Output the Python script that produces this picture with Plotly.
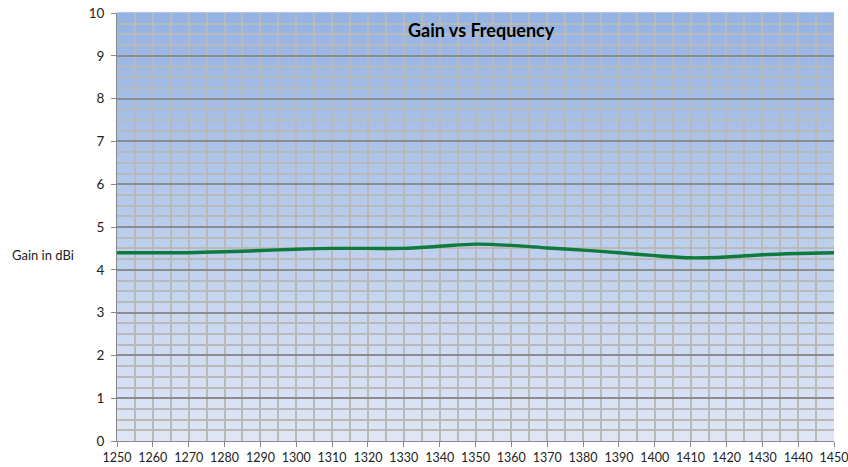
import plotly.graph_objects as go

freq = [1250, 1260, 1270, 1280, 1290, 1300, 1310, 1320, 1330, 1340, 1350,
        1360, 1370, 1380, 1390, 1400, 1410, 1420, 1430, 1440, 1450]
gain = [4.40, 4.40, 4.40, 4.42, 4.45, 4.48, 4.50, 4.50, 4.50, 4.55, 4.60,
        4.57, 4.51, 4.46, 4.40, 4.33, 4.28, 4.30, 4.35, 4.38, 4.40]

fig = go.Figure()
fig.add_trace(go.Scatter(x=freq, y=gain, mode="lines",
                         line=dict(color="#0e7a3b", width=3.4, shape="spline", smoothing=0.8),
                         showlegend=False, hoverinfo="x+y"))

# gradient background strips
top = (149, 179, 227)
bot = (222, 230, 245)
n = 60
shapes = []
for i in range(n):
    t = i / (n - 1)
    c = tuple(round(bot[k] + (top[k] - bot[k]) * t) for k in range(3))
    shapes.append(dict(type="rect", xref="x domain", yref="y domain",
                       x0=0, x1=1, y0=i / n, y1=(i + 1) / n + 0.002,
                       fillcolor="rgb(%d,%d,%d)" % c, line=dict(width=0), layer="below"))

fig.update_layout(
    width=848, height=467,
    margin=dict(l=117, r=14, t=13, b=26),
    paper_bgcolor="white", plot_bgcolor="white",
    font=dict(family="Lato, Open Sans, sans-serif", size=13, color="#222"),
    shapes=shapes,
    annotations=[
        dict(text="<b>Gain vs Frequency</b>", xref="x domain", yref="y domain",
             x=0.509, y=0.96, yanchor="middle", showarrow=False,
             font=dict(size=18, color="black")),
        dict(text="Gain in dBi", xref="paper", yref="y domain", x=-0.103, y=0.435,
             xanchor="center", yanchor="middle", showarrow=False,
             font=dict(size=13, color="#222")),
    ],
    xaxis=dict(range=[1250, 1450], dtick=10, tick0=1250, showgrid=True,
               gridcolor="#b9b9b9", gridwidth=1.5, automargin=False,
               ticklabeloverflow="allow",
               minor=dict(dtick=5, showgrid=True, gridcolor="#b9b9b9", gridwidth=1.5),
               ticks="outside", ticklen=5, tickcolor="#888",
               showline=True, linecolor="#888", linewidth=1, zeroline=False,
               tickfont=dict(size=12.5)),
    yaxis=dict(range=[0, 10], dtick=1, showgrid=True, gridcolor="#8c8c8c", gridwidth=1.5,
               automargin=False, ticklabelstandoff=4, ticklabeloverflow="allow",
               minor=dict(dtick=0.25, showgrid=True, gridcolor="#b9b9b9", gridwidth=1.5),
               ticks="outside", ticklen=5, tickcolor="#888",
               showline=True, linecolor="#888", linewidth=1, zeroline=False,
               tickfont=dict(size=13.5)),
)

# remove the browser's default 8px body margin so the figure sits at the window origin
fig.write_html("out.html", config={"displayModeBar": False},
               post_script="document.body.style.margin='0';")
